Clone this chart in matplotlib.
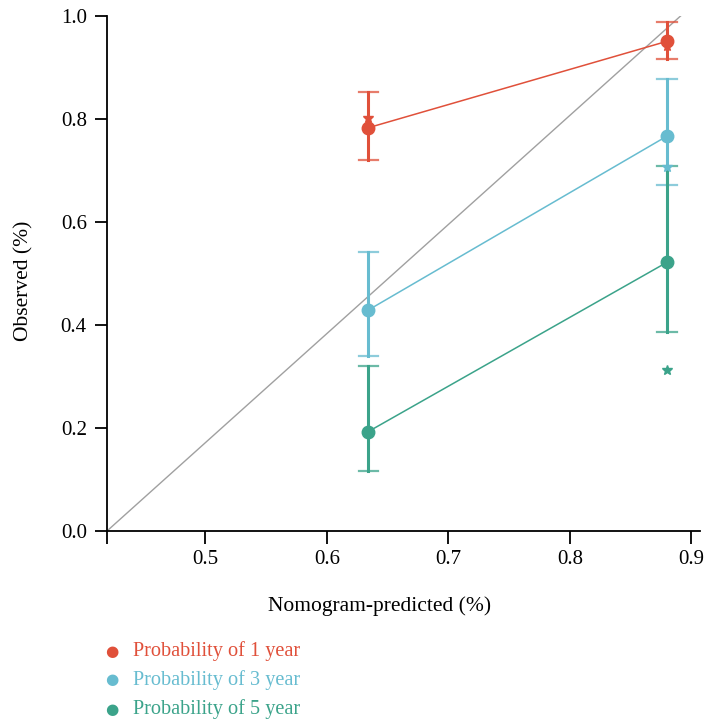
import matplotlib
matplotlib.use("Agg")
import matplotlib.pyplot as plt

plt.rcParams['font.family'] = ['Liberation Serif', 'DejaVu Serif']

x_pred = [0.634, 0.880]
series_names = ["Probability of 1 year", "Probability of 3 year", "Probability of 5 year"]
colors = ["#E0503A", "#67BCD0", "#3BA38A"]
obs = [[0.783, 0.951], [0.429, 0.767], [0.193, 0.522]]
err_lo = [[0.720, 0.917], [0.340, 0.672], [0.117, 0.386]]
err_hi = [[0.852, 0.988], [0.542, 0.878], [0.320, 0.709]]
star = [[0.802, 0.942], [0.429, 0.707], [0.193, 0.313]]
xticks = [0.5, 0.6, 0.7, 0.8, 0.9]
yticks = [0.0, 0.2, 0.4, 0.6, 0.8, 1.0]
xlim = (0.419, 0.907)
ylim = (0.0, 1.0)
diag = ([0.419, 0.891], [0.0, 1.0])

fig = plt.figure(figsize=(7.05, 7.22), dpi=100)
ax = fig.add_axes([107/705, 1-531/722, (700-107)/705, (531-16)/722])

ax.plot(diag[0], diag[1], color="#A0A0A0", lw=1.0, zorder=1)

for i in range(3):
    c = colors[i]
    ax.plot(x_pred, obs[i], color=c, lw=1.1, zorder=2)
    for j in range(2):
        ax.plot([x_pred[j], x_pred[j]], [err_lo[i][j], err_hi[i][j]], color=c, lw=2.2, zorder=3)
        for yv in (err_lo[i][j], err_hi[i][j]):
            ax.plot([x_pred[j]-0.008, x_pred[j]+0.008], [yv, yv], color=c, lw=1.6, alpha=0.75, zorder=3)
    ax.plot(x_pred, star[i], linestyle='none', marker='*', ms=7, color=c, zorder=4)
    ax.plot(x_pred, obs[i], linestyle='none', marker='o', ms=9, color=c, zorder=5)

ax.set_xlim(*xlim)
ax.set_ylim(*ylim)
ax.set_xticks(xticks)
ax.set_xticks([xlim[0]], minor=True)
ax.set_yticks(yticks)
ax.set_xticklabels([f"{v:.1f}" for v in xticks])
ax.set_yticklabels([f"{v:.1f}" for v in yticks])
for s in ["top", "right"]:
    ax.spines[s].set_visible(False)
for s in ["left", "bottom"]:
    ax.spines[s].set_linewidth(1.3)
ax.tick_params(axis='x', which='both', length=9, width=1.3, labelsize=15, pad=5)
ax.tick_params(axis='y', length=8.5, width=1.3, labelsize=15, pad=6)
ax.set_xlabel("Nomogram-predicted (%)", fontsize=15.5)
ax.set_ylabel("Observed (%)", fontsize=15.5)
ax.xaxis.set_label_coords((380-107)/593, -(596-531)/515)
ax.yaxis.set_label_coords(-(107-33)/593, (531-281)/515)

ys = [651, 680, 709]
for i in range(3):
    fig.text(112/705, 1-ys[i]/722, "\u25CF", color=colors[i], fontsize=11, ha='center', va='center', family='DejaVu Sans')
    fig.text(133/705, 1-ys[i]/722, series_names[i], color=colors[i], fontsize=14.6, ha='left', va='center')

fig.savefig("out.png", dpi=100)
